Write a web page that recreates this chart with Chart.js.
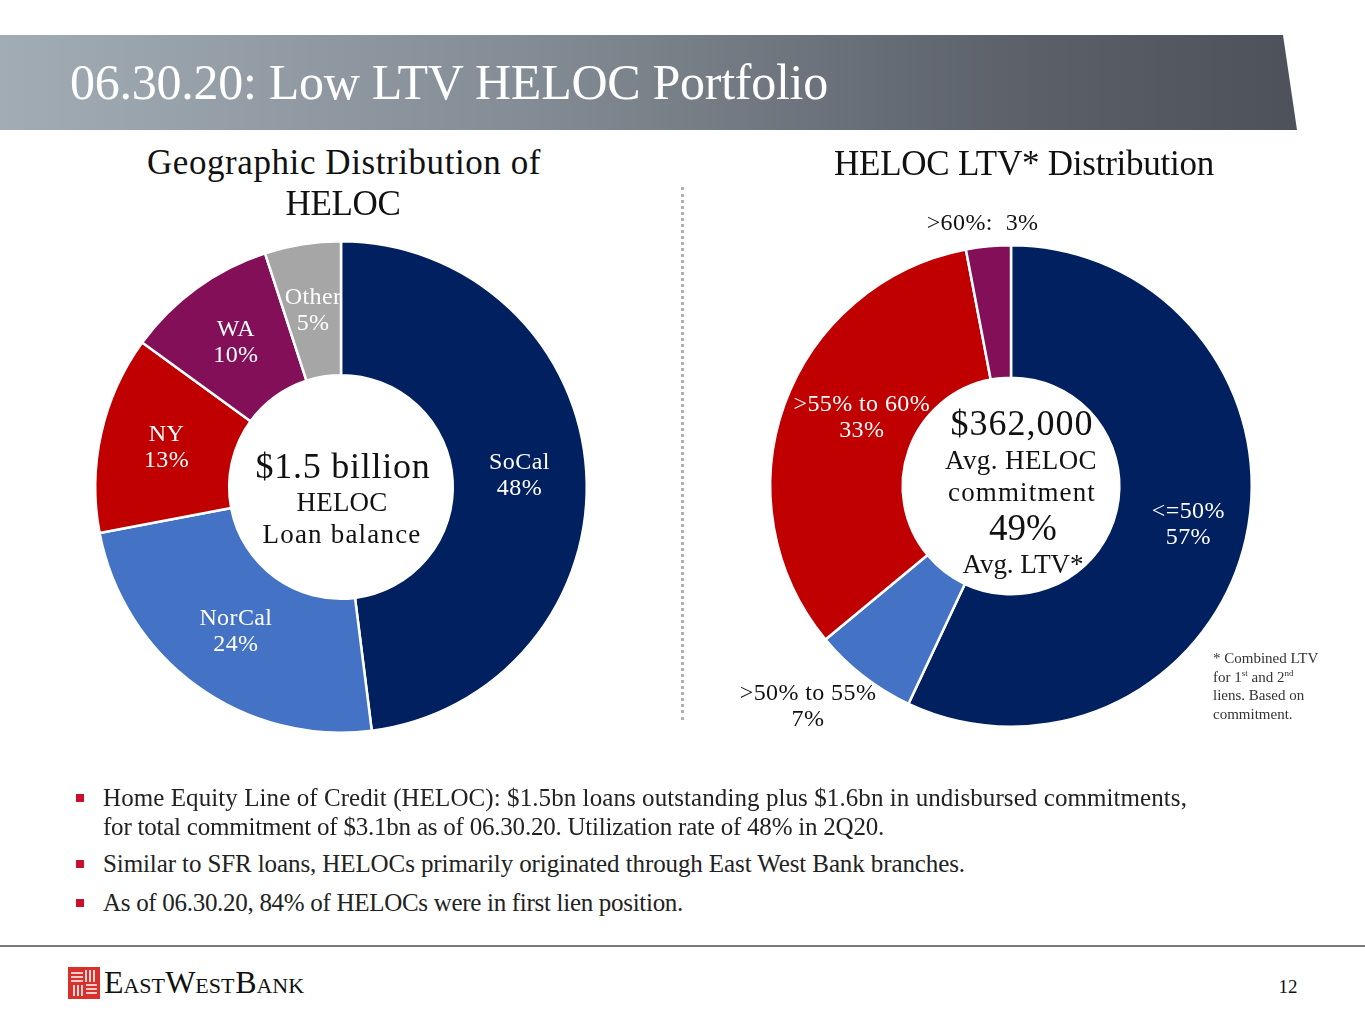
<!DOCTYPE html>
<html>
<head>
<meta charset="utf-8">
<script src="https://cdn.jsdelivr.net/npm/chart.js@4.4.1/dist/chart.umd.min.js"></script>
<style>
  body { margin: 0; width: 1365px; height: 1024px; background: #fff; position: relative; overflow: hidden;
         font-family: "Liberation Serif", "DejaVu Serif", serif; color: #111; }
  .abs { position: absolute; white-space: nowrap; }
  .c { transform: translate(-50%, -50%); text-align: center; }
  .l { transform: translate(0, -50%); }
  #bar { left: 0; top: 35px; width: 1297px; height: 95px;
         background: linear-gradient(90deg, #a2acb4 0%, #848d95 40%, #5a5f68 80%, #4d515a 100%);
         clip-path: polygon(0 0, 1283px 0, 1297px 95px, 0 95px); }
  #dots { left: 681px; top: 187px; height: 533px; border-left: 3px dotted #b0b0b0; }
  #rule { left: 0; top: 945px; width: 1365px; height: 2px; background: #7a7a7a; }
  .sq { width: 8px; height: 8px; background: #c8102e; }
  .bul { color: #222; }
</style>
</head>
<body>
<div id="bar" class="abs"></div>
<div id="dots" class="abs"></div>
<div id="rule" class="abs"></div>

<div class="abs" style="left:41px;top:187px;"><canvas id="geo" width="600" height="600"></canvas></div>
<div class="abs" style="left:691px;top:166px;"><canvas id="ltv" width="640" height="640"></canvas></div>

<div id="texts"></div>

<script>
// slice shares, in percent
const geoLabels = ['SoCal', 'NorCal', 'NY', 'WA', 'Other'];
const geoShare = [48, 24, 13, 10, 5];
const geoColors = ['#00205f', '#4472c4', '#c00000', '#820f58', '#a6a6a6'];

const ltvLabels = ['<=50%', '>50% to 55%', '>55% to 60%', '>60%:'];
const ltvShare = [57, 7, 33, 3];
const ltvColors = ['#00205f', '#4472c4', '#c00000', '#820f58'];

// static slide text; optional width makes letter-spacing stretch/squeeze to fit
function txt(s, x, y, size, cls, extra, width) {
  const d = document.createElement('div');
  d.className = 'abs ' + (cls || 'c');
  d.style.left = x + 'px';
  d.style.top = y + 'px';
  d.style.fontSize = size + 'px';
  d.style.lineHeight = '1.1';
  if (extra) d.style.cssText += extra;
  d.innerHTML = s;
  document.getElementById('texts').appendChild(d);
  if (width) {
    const w = d.getBoundingClientRect().width;
    const n = d.textContent.length;
    d.style.letterSpacing = ((width - w) / n) + 'px';
  }
}

txt('06.30.20: Low LTV HELOC Portfolio', 70, 82, 50, 'l', 'color:#fff;', 758);
txt('Geographic Distribution of', 344, 163, 35, 'c', '', 394);
txt('HELOC', 343, 204, 35, 'c', '', 115);
txt('HELOC LTV* Distribution', 1024, 164, 35, 'c', '', 380);

txt('$1.5 billion', 343, 467, 36, 'c', '', 175);
txt('HELOC', 342, 503, 27, 'c', '', 91);
txt('Loan balance', 342, 535, 27, 'c', '', 159);

txt('$362,000', 1022, 424, 36, 'c', '', 143);
txt('Avg. HELOC', 1021, 461, 27, 'c', '', 152);
txt('commitment', 1022, 493, 27, 'c', '', 148);
txt('49%', 1023, 528, 37, 'c', '', 68);
txt('Avg. LTV*', 1023, 565, 27, 'c', '', 121);

const foot = ['* Combined LTV', 'for 1<sup style="font-size:9px">st</sup> and 2<sup style="font-size:9px">nd</sup>', 'liens. Based on', 'commitment.'];
foot.forEach((s, i) => txt(s, 1213, 658 + i * 18.7, 15, 'l', 'color:#333;'));

const bullets = [
  ['Home Equity Line of Credit (HELOC): $1.5bn loans outstanding plus $1.6bn in undisbursed commitments,', 798, true, 1084],
  ['for total commitment of $3.1bn as of 06.30.20. Utilization rate of 48% in 2Q20.', 827, false, 781],
  ['Similar to SFR loans, HELOCs primarily originated through East West Bank branches.', 864, true, 862],
  ['As of 06.30.20, 84% of HELOCs were in first lien position.', 903, true, 580]
];
bullets.forEach(b => {
  if (b[2]) txt('', 76, b[1] - 4, 10, 'sq', '');
  txt(b[0], 103, b[1], 25, 'l bul', '', b[3]);
});

txt('<svg width="32" height="32" viewBox="0 0 32 32"><rect width="32" height="32" fill="#d9302c"/>' +
    '<g stroke="#fff" stroke-width="1.6" fill="none">' +
    '<path d="M3 6h12M3 10h12M3 14h12M18 3v12M22 3v12M26 3v12M6 18v11M10 18v11M14 18v11M18 18h11M18 22h11M18 26h11"/></g></svg>',
    68, 983, 10, 'l', 'line-height:0;');
txt('East West Bank', 104, 983, 32, 'l', 'font-variant:small-caps;word-spacing:-7px;color:#111;', 200);
txt('12', 1288, 987, 19);

// draws "name / pct" at each slice's centroid, with optional nudge
const sliceLabels = {
  id: 'sliceLabels',
  afterDatasetsDraw(chart, args, opts) {
    const ctx = chart.ctx;
    const ds = chart.data.datasets[0];
    const arcs = chart.getDatasetMeta(0).data;
    ctx.save();
    ctx.font = '24px "Liberation Serif", serif';
    ctx.letterSpacing = '0.4px';
    ctx.textAlign = 'center';
    ctx.textBaseline = 'middle';
    arcs.forEach((arc, i) => {
      const p = arc.getCenterPoint();
      const off = (opts.offsets && opts.offsets[i]) || [0, 0];
      const x = p.x + off[0], y = p.y + off[1];
      ctx.fillStyle = (opts.colors && opts.colors[i]) || '#fff';
      const name = chart.data.labels[i];
      const pct = ds.data[i] + '%';
      if (opts.inline && opts.inline[i]) {
        ctx.fillText(name + '  ' + pct, x, y);
      } else {
        ctx.fillText(name, x, y - 13);
        ctx.fillText(pct, x, y + 13);
      }
    });
    ctx.restore();
  }
};

function doughnut(id, labels, data, colors, pad, cutout, labelOpts) {
  return new Chart(document.getElementById(id), {
    type: 'doughnut',
    data: {
      labels: labels,
      datasets: [{
        data: data,
        backgroundColor: colors,
        borderColor: '#fff',
        borderWidth: 2.5
      }]
    },
    options: {
      responsive: false,
      animation: false,
      cutout: cutout,
      layout: { padding: pad },
      plugins: {
        legend: { display: false },
        tooltip: { enabled: false },
        sliceLabels: labelOpts
      }
    },
    plugins: [sliceLabels]
  });
}

doughnut('geo', geoLabels, geoShare, geoColors, 53, '45.5%', {});
doughnut('ltv', ltvLabels, ltvShare, ltvColors, 78, '45%', {
  colors: ['#fff', '#111', '#fff', '#111'],
  offsets: [[7, 1], [-96, 83], [15, -9], [-12, -89]],
  inline: [false, false, false, true]
});
</script>
</body>
</html>
